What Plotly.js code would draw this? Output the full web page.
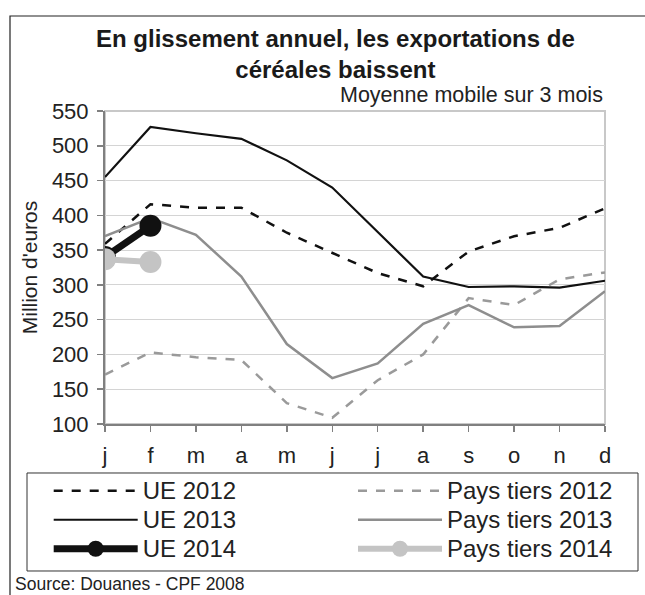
<!DOCTYPE html>
<html>
<head>
<meta charset="utf-8">
<script src="https://cdn.plot.ly/plotly-3.0.1.min.js"></script>
<style>html,body{margin:0;padding:0;background:#fff;}#chart{width:645px;height:595px;}</style>
</head>
<body>
<div id="chart"></div>
<script>
const months = ['j','f','m','a','m','j','j','a','s','o','n','d'];
const ue2012 = [359, 416, 411, 411, 375, 346, 317, 298, 348, 370, 382, 410];
const pt2012 = [171, 203, 196, 192, 130, 109, 163, 200, 281, 271, 308, 318];
const ue2013 = [455, 527, 518, 510, 479, 440, 376, 312, 297, 298, 296, 306];
const pt2013 = [370, 396, 372, 312, 215, 166, 187, 244, 271, 239, 241, 291];
const ue2014 = [340, 385];
const pt2014 = [337, 333];
const seriesNames = ['UE 2012','UE 2013','UE 2014','Pays tiers 2012','Pays tiers 2013','Pays tiers 2014'];

const idx = months.map((_, i) => i);
const FONT = 'Liberation Sans, Arial, Helvetica, sans-serif';
const big = s => '<span style="font-size:24px">' + s + '</span>';

const traces = [
  {x: idx, y: ue2012, name: big(seriesNames[0]), mode: 'lines', legend: 'legend',
   line: {color: '#111111', width: 2.5, dash: 'dash'}},
  {x: idx, y: ue2013, name: big(seriesNames[1]), mode: 'lines', legend: 'legend',
   line: {color: '#111111', width: 2.2}},
  {x: idx, y: pt2012, name: big(seriesNames[3]), mode: 'lines', legend: 'legend2',
   line: {color: '#9a9a9a', width: 2.5, dash: 'dash'}},
  {x: idx, y: pt2013, name: big(seriesNames[4]), mode: 'lines', legend: 'legend2',
   line: {color: '#8e8e8e', width: 2.5}},
  {x: idx.slice(0, ue2014.length), y: ue2014, name: big(seriesNames[2]), mode: 'lines+markers', legend: 'legend',
   line: {color: '#111111', width: 7}, marker: {color: '#111111', size: 22}},
  {x: idx.slice(0, pt2014.length), y: pt2014, name: big(seriesNames[5]), mode: 'lines+markers', legend: 'legend2',
   line: {color: '#c4c4c4', width: 6}, marker: {color: '#c4c4c4', size: 22}}
];

const layout = {
  width: 645, height: 595,
  margin: {l: 105, r: 40, t: 111, b: 171},
  paper_bgcolor: '#ffffff', plot_bgcolor: '#ffffff',
  font: {family: FONT, color: '#222222', size: 19},
  title: {
    text: '<b>En glissement annuel, les exportations de<br>céréales baissent</b>',
    font: {family: FONT, size: 24, color: '#1a1a1a'},
    x: 0.52, xanchor: 'center', xref: 'container',
    y: 0.921, yanchor: 'top', yref: 'container'
  },
  xaxis: {
    range: [0, 11], tickmode: 'array', tickvals: idx, ticktext: months,
    ticks: 'outside', ticklen: 6, tickwidth: 1.5, tickcolor: '#808080',
    showline: true, linecolor: '#808080', linewidth: 2,
    showgrid: false, zeroline: false, fixedrange: true,
    ticklabelstandoff: 5,
    tickfont: {family: FONT, size: 22, color: '#222222'}
  },
  yaxis: {
    range: [100, 550], tickmode: 'linear', tick0: 100, dtick: 50,
    ticks: 'outside', ticklen: 6, tickwidth: 1.5, tickcolor: '#808080',
    showline: true, linecolor: '#808080', linewidth: 2,
    showgrid: true, gridcolor: '#d4d4d4', gridwidth: 1.2, zeroline: false,
    ticklabelstandoff: 4,
    tickfont: {family: FONT, size: 22, color: '#222222'},
    title: {text: "Million d'euros", font: {family: FONT, size: 21, color: '#222222'}, standoff: 9}
  },
  showlegend: true,
  legend: {
    x: -0.1126, xanchor: 'left', y: -0.151, yanchor: 'top',
    orientation: 'v', bgcolor: 'rgba(0,0,0,0)', borderwidth: 0, itemwidth: 84,
    font: {family: FONT, size: 20, color: '#222222'}, traceorder: 'normal'
  },
  legend2: {
    x: 0.496, xanchor: 'left', y: -0.151, yanchor: 'top',
    orientation: 'v', bgcolor: 'rgba(0,0,0,0)', borderwidth: 0, itemwidth: 84,
    font: {family: FONT, size: 20, color: '#222222'}, traceorder: 'normal'
  },
  shapes: [
    {type: 'rect', xref: 'paper', yref: 'paper', x0: 0, x1: 1, y0: 0, y1: 1,
     line: {color: '#c8c8c8', width: 2}, layer: 'below'},
    {type: 'rect', xref: 'paper', yref: 'paper', x0: -0.156, x1: 1.066, y0: -0.4696, y1: -0.1565,
     line: {color: '#333333', width: 1}, fillcolor: 'rgba(0,0,0,0)'},
    {type: 'rect', xref: 'paper', yref: 'paper', x0: -0.19, x1: 1.09, y0: -0.56, y1: 1.3035,
     line: {color: '#222222', width: 1.2}, fillcolor: 'rgba(0,0,0,0)'}
  ],
  annotations: [
    {text: 'Moyenne mobile sur 3 mois', xref: 'paper', yref: 'paper', x: 1, y: 1,
     xanchor: 'right', yanchor: 'bottom', yshift: 2, showarrow: false,
     font: {family: FONT, size: 21.5, color: '#222222'}},
    {text: 'Source: Douanes - CPF 2008', xref: 'paper', yref: 'paper', x: -0.184, y: -0.511,
     xanchor: 'left', yanchor: 'middle', showarrow: false,
     font: {family: FONT, size: 17.5, color: '#222222'}}
  ]
};

Plotly.newPlot('chart', traces, layout, {staticPlot: true, displayModeBar: false});
</script>
</body>
</html>
